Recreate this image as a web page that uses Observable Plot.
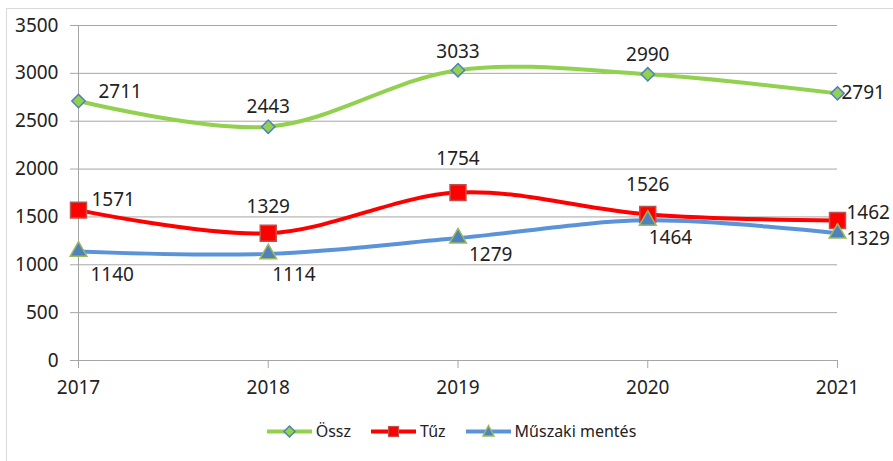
<!DOCTYPE html>
<html><head><meta charset="utf-8">
<script src="https://cdn.jsdelivr.net/npm/d3@7"></script>
<script src="https://cdn.jsdelivr.net/npm/@observablehq/plot@0.6"></script>
<style>
body{margin:0;background:#fff;font-family:"Noto Sans",sans-serif;}
#wrap{position:relative;width:893px;height:461px;overflow:hidden;}
#frame{position:absolute;left:6px;top:8px;width:900px;height:460px;border-left:1px solid #d9d9d9;border-top:1px solid #d9d9d9;}
#chart{position:absolute;left:0;top:0;}
#legend{position:absolute;left:0;top:420px;width:893px;display:flex;justify-content:center;align-items:center;gap:0;font-size:16px;color:#222;padding-left:30px;box-sizing:border-box;}
.item{display:flex;align-items:center;margin-right:20px;}
.item span{margin-left:4px;}
</style></head>
<body><div id="wrap"><div id="frame"></div><div id="chart"></div><div id="legend"></div></div>
<script>
const years = [2017, 2018, 2019, 2020, 2021];
const ossz = [2711, 2443, 3033, 2990, 2791];
const tuz = [1571, 1329, 1754, 1526, 1462];
const muszaki = [1140, 1114, 1279, 1464, 1329];
const seriesNames = ["Össz", "Tűz", "Műszaki mentés"];
const yTicks = [0, 500, 1000, 1500, 2000, 2500, 3000, 3500];

const seriesVals = [ossz, tuz, muszaki];
const data = seriesNames.flatMap((s, si) => years.map((y, i) => ({series: s, year: y, value: seriesVals[si][i], i})));

const style = {
  "Össz": {line: "#92D050", fill: "#92D050", stroke: "#4F81BD", symbol: "diamond2", r: 6},
  "Tűz": {line: "#FF0000", fill: "#FF0000", stroke: "#C0504D", symbol: "square", r: 9},
  "Műszaki mentés": {line: "#5B93D8", fill: "#4F81BD", stroke: "#9BBB59", symbol: "triangle", r: 6.2}
};
// label offsets (dx, dy, anchor) per series, per point
const labelOffsets = {
  "Össz": [[20, -9, "start"], [0, -20, "middle"], [0, -18, "middle"], [0, -19, "middle"], [4, 0, "start"]],
  "Tűz": [[13, -10, "start"], [0, -26, "middle"], [0, -34, "middle"], [0, -30, "middle"], [9, -8, "start"]],
  "Műszaki mentés": [[12, 24, "start"], [4, 21, "start"], [11, 17, "start"], [1, 18, "start"], [9, 6, "start"]]
};

const marks = [
  Plot.gridY(yTicks, {stroke: "#a6a6a6", strokeOpacity: 1, strokeWidth: 1, x1: 2017, x2: 2021}),
  Plot.axisY(yTicks, {tickSize: 8, tickPadding: 12, stroke: "#a6a6a6", fontSize: 19, fill: "#222", label: null, tickFormat: d => String(d)}),
  Plot.ruleX([2017], {stroke: "#a6a6a6", y1: 0, y2: 3500}),
  Plot.ruleY([0], {stroke: "#a6a6a6"}),
  Plot.axisX(years, {tickSize: 8, tickPadding: 12, stroke: "#a6a6a6", fontSize: 19, fill: "#222", label: null, tickFormat: d => String(d)}),
];
for (const s of seriesNames) {
  const st = style[s];
  const d = data.filter(e => e.series === s);
  marks.push(Plot.line(d, {x: "year", y: "value", stroke: st.line, strokeWidth: 4, curve: "catmull-rom"}));
}
for (const s of seriesNames) {
  const st = style[s];
  const d = data.filter(e => e.series === s);
  marks.push(Plot.dot(d, {x: "year", y: "value", symbol: () => st.symbol, fill: st.fill, stroke: st.stroke, strokeWidth: 1.5, r: st.r}));
}
for (const s of seriesNames) {
  const d = data.filter(e => e.series === s);
  d.forEach((e, k) => {
    const [dx, dy, anchor] = labelOffsets[s][k];
    marks.push(Plot.text([e], {x: "year", y: "value", text: e => String(e.value), dx, dy, textAnchor: anchor, fontSize: 19, fill: "#222"}));
  });
}

const chart = Plot.plot({
  width: 893, height: 400,
  marginLeft: 78, marginRight: 56, marginTop: 25, marginBottom: 40,
  style: {fontFamily: "Noto Sans, sans-serif", background: "transparent", overflow: "visible"},
  x: {domain: [2017, 2021], axis: null},
  y: {domain: [0, 3500], axis: null},
  symbol: {type: "identity"},
  marks
});
document.getElementById("chart").append(chart);

const leg = document.getElementById("legend");
for (const s of seriesNames) {
  const st = style[s];
  const item = document.createElement("div");
  item.className = "item";
  let sym;
  if (st.symbol === "diamond2") sym = `<path d="M22.5,5 L28,10.5 L22.5,16 L17,10.5Z" fill="${st.fill}" stroke="${st.stroke}" stroke-width="1.5"/>`;
  else if (st.symbol === "square") sym = `<rect x="17.5" y="5.5" width="10" height="10" fill="${st.fill}" stroke="${st.stroke}" stroke-width="1.2"/>`;
  else sym = `<path d="M22.5,4.5 L28,15 L17,15Z" fill="${st.fill}" stroke="${st.stroke}" stroke-width="1.5"/>`;
  item.innerHTML = `<svg width="45" height="21"><line x1="0" x2="45" y1="10.5" y2="10.5" stroke="${st.line}" stroke-width="4"/>${sym}</svg><span>${s}</span>`;
  leg.append(item);
}
</script></body></html>
